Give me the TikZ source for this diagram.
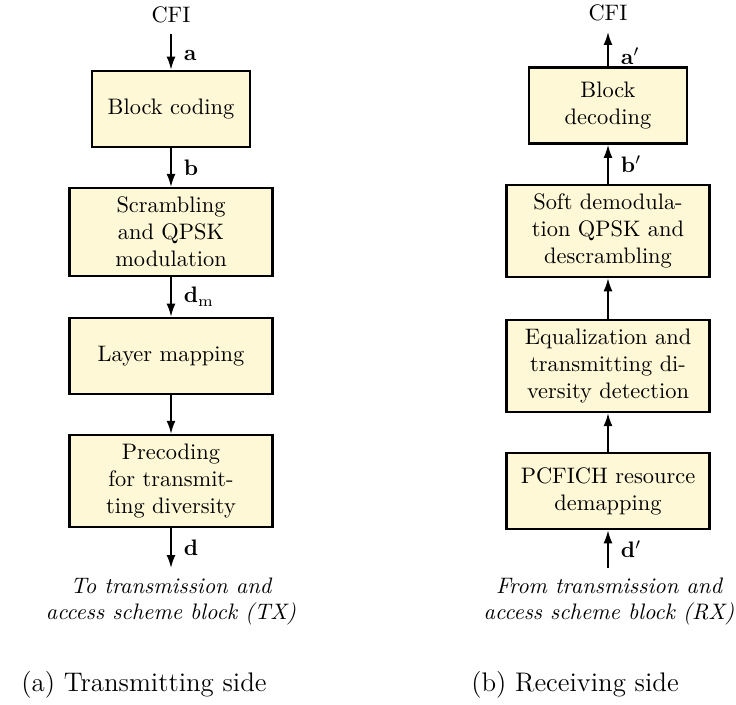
\documentclass[tikz,border=0pt]{standalone}
\usetikzlibrary{arrows.meta}
\definecolor{boxfill}{RGB}{255,248,214}
\begin{document}
\begin{tikzpicture}[x=0.4464pt,y=-0.4464pt,
  blk/.style={draw, line width=1.1pt, fill=boxfill, align=center,
              inner sep=4pt, minimum height=34pt},
  narrowblk/.style={blk, minimum width=70.5pt},
  wideblk/.style={blk, minimum width=90.6pt},
  flow/.style={line width=0.75pt, -{Latex[length=5.8pt,width=4pt]}},
  lbl/.style={right, xshift=2pt},
  io/.style={outer sep=1.5pt},
  note/.style={font=\itshape, align=center},
  subcap/.style={font=\large, anchor=base}]
\useasboundingbox (0,0) rectangle (736,704);

% ---- transmitting side ----
\node[io] (cfiL) at (171,15) {CFI};
\node[narrowblk] (bc) at (171,109) {Block coding};
\node[wideblk] (sm) at (171,232) {Scrambling\\and QPSK\\modulation};
\node[wideblk] (lm) at (171,356) {Layer mapping};
\node[wideblk] (pc) at (171,481) {Precoding\\for transmit-\\ting diversity};
\coordinate (dout) at (171,568);
\node[note] (txnote) at (171,601.5) {To transmission and\\access scheme block (TX)};
\node[subcap] (capa) at (144,691) {(a) Transmitting side};

\draw[flow] (cfiL) -- (bc) node[lbl,pos=0.6] {$\mathbf{a}$};
\draw[flow] (bc) -- (sm) node[lbl,midway] {$\mathbf{b}$};
\draw[flow] (sm) -- (lm) node[lbl,midway] {$\mathbf{d}_\mathrm{m}$};
\draw[flow] (lm) -- (pc);
\draw[flow] (pc) -- (dout) node[lbl,midway] {$\mathbf{d}$};

% ---- receiving side ----
\node[io] (cfiR) at (608,13) {CFI};
\node[narrowblk] (bd) at (608,105.5) {Block\\decoding};
\node[wideblk] (sd) at (608,231) {Soft demodula-\\tion QPSK and\\descrambling};
\node[wideblk] (eq) at (608,366) {Equalization and\\transmitting di-\\versity detection};
\node[wideblk] (pcf) at (608,491) {PCFICH resource\\demapping};
\coordinate (din) at (608,568);
\node[note] (rxnote) at (609,601.5) {From transmission and\\access scheme block (RX)};
\node[subcap] (capb) at (575,691) {(b) Receiving side};

\draw[flow] (bd) -- (cfiR) node[lbl,pos=0.3] {$\mathbf{a}'$};
\draw[flow] (sd) -- (bd) node[lbl,midway] {$\mathbf{b}'$};
\draw[flow] (eq) -- (sd);
\draw[flow] (pcf) -- (eq);
\draw[flow] (din) -- (pcf) node[lbl,midway] {$\mathbf{d}'$};
\end{tikzpicture}
\end{document}
